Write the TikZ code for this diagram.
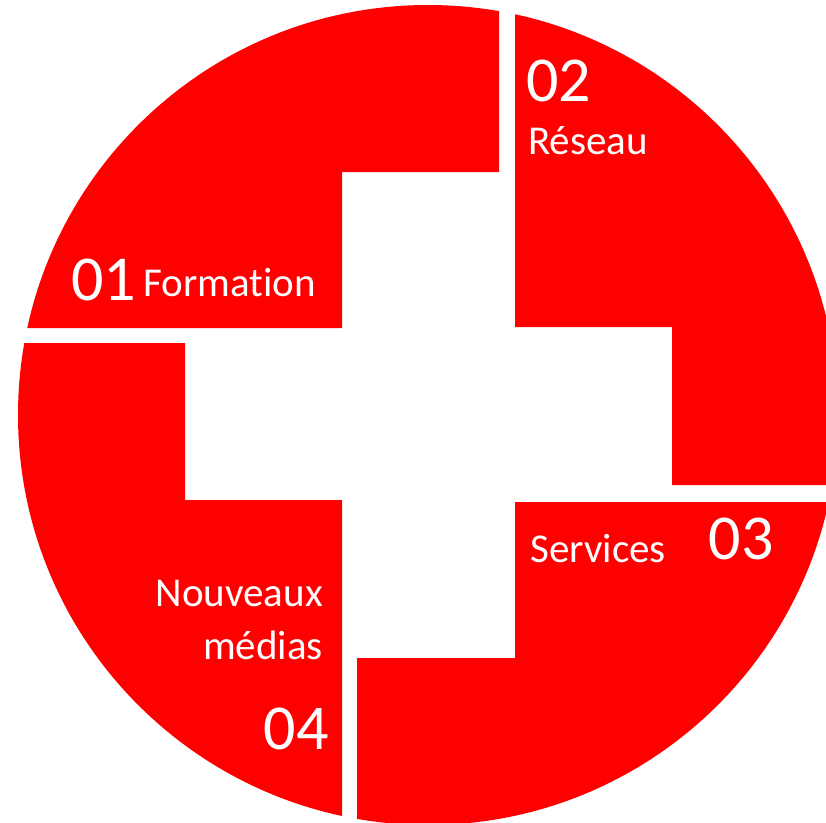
\documentclass[tikz,border=0pt]{standalone}
\usepackage{fontspec}
\setmainfont{Carlito}[Ligatures=NoCommon]
\tikzstyle{piece}=[fill=red]
\tikzstyle{digits}=[text=white, inner sep=0pt, font=\fontsize{64}{64}\selectfont]
\tikzstyle{words}=[text=white, inner sep=0pt, font=\fontsize{41}{41}\selectfont]
\begin{document}
\begin{tikzpicture}[x=1pt, y=-1pt]
  \useasboundingbox (0,0) rectangle (826,822);

  %% Four quarters of the disc
  \begin{scope}
    \clip (0,0) rectangle (826,822);
    \clip (428,415) circle (410);
    \fill[piece] (-10,-10) -- (499,-10) -- (499,172) -- (342,172) -- (342,328) -- (-10,328) -- cycle;
    \fill[piece] (515,-10) -- (840,-10) -- (840,485) -- (672,485) -- (672,327) -- (515,327) -- cycle;
    \fill[piece] (840,502) -- (840,840) -- (357,840) -- (357,658) -- (515,658) -- (515,502) -- cycle;
    \fill[piece] (-10,343) -- (185,343) -- (185,500) -- (342,500) -- (342,840) -- (-10,840) -- cycle;
  \end{scope}

  %% Numbers
  \draw (71,300) node[digits, anchor=base west] (N1) {01};
  \draw (526,101) node[digits, anchor=base west] (N2) {02};
  \draw (774,559) node[digits, anchor=base east] (N3) {03};
  \draw (329,749) node[digits, anchor=base east] (N4) {04};

  %% Titles
  \draw (143,296) node[words, anchor=base west] (T1) {Formation};
  \draw (528,154) node[words, anchor=base west] (T2) {Réseau};
  \draw (530,562) node[words, anchor=base west] (T3) {Services};
  \draw (323,606) node[words, anchor=base east] (T4a) {Nouveaux};
  \draw (323,659) node[words, anchor=base east] (T4b) {médias};
\end{tikzpicture}
\end{document}
